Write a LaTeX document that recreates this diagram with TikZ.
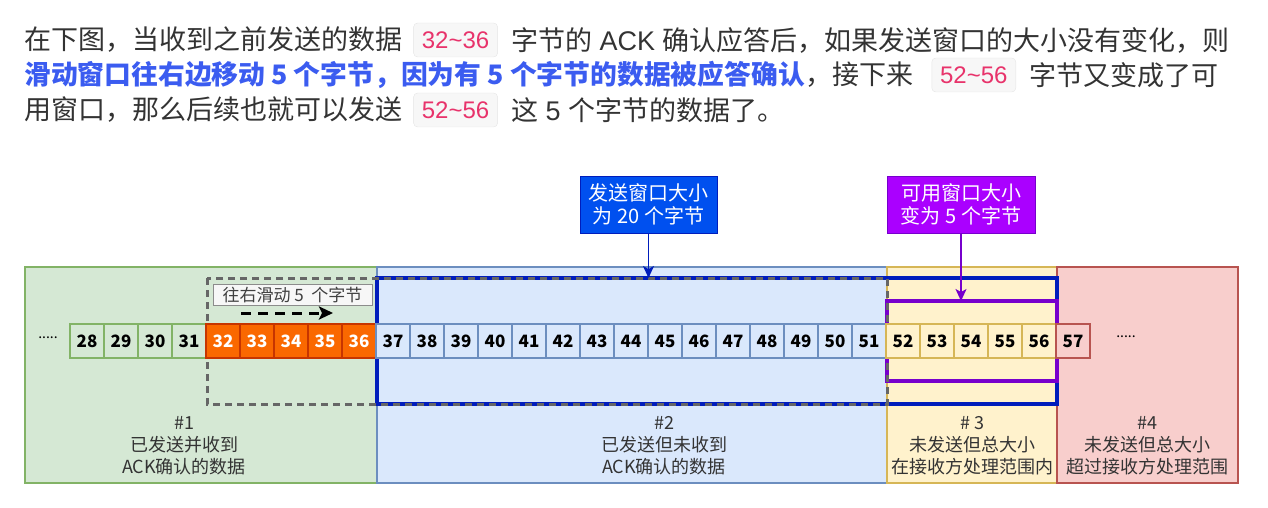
\documentclass[tikz,border=0pt]{standalone}
\usepackage{fontspec}
\setmainfont{Noto Sans CJK SC}
\newfontfamily\latinfont{Liberation Sans}
\usepackage{xcolor}
\usepackage{tikz}
\usetikzlibrary{positioning, arrows.meta}

\definecolor{txtgray}{HTML}{333333}
\definecolor{hiblue}{HTML}{3B5CF0}
\definecolor{codepink}{HTML}{E8336B}
\definecolor{greenfill}{HTML}{D5E8D4}
\definecolor{greenline}{HTML}{82B366}
\definecolor{bluefill}{HTML}{DAE8FC}
\definecolor{blueline}{HTML}{6C8EBF}
\definecolor{yellowfill}{HTML}{FFF2CC}
\definecolor{yellowline}{HTML}{D6B656}
\definecolor{redfill}{HTML}{F8CECC}
\definecolor{redline}{HTML}{B85450}
\definecolor{orangefill}{HTML}{FA6800}
\definecolor{orangeline}{HTML}{C73500}
\definecolor{winblue}{HTML}{001DBC}
\definecolor{calloutblue}{HTML}{0050EF}
\definecolor{winpurple}{HTML}{7700CC}
\definecolor{calloutpurple}{HTML}{AA00FF}

\tikzset{
    intro/.style={inner sep=0pt, anchor=west, text=txtgray, font=\fontsize{27}{34}\selectfont},
    code/.style={rectangle, rounded corners=4pt, draw=black!10, fill=black!3, text=codepink, minimum width=84pt, minimum height=34pt, inner sep=0pt, font=\latinfont\fontsize{24}{24}\selectfont},
    region/.style={rectangle, line width=1.5pt, minimum height=216pt, inner sep=0pt},
    cell/.style={rectangle, line width=1.5pt, minimum width=34pt, minimum height=34pt, inner sep=0pt, font=\fontsize{17}{17}\selectfont\bfseries},
    regionlabel/.style={align=center, text=txtgray, font=\fontsize{18}{22}\selectfont, anchor=south, inner sep=0pt},
    callout/.style={rectangle, line width=1pt, minimum height=57pt, align=center, text=white, inner sep=0pt, font=\fontsize{20}{23}\selectfont},
    arrow/.style={-{Stealth[length=12pt, width=11pt, inset=3pt]}, line width=1.5pt}
}

\begin{document}
\begin{tikzpicture}[x=1pt, y=-1pt,
        acked/.style={cell, draw=greenline, fill=greenfill},
        moving/.style={cell, draw=orangeline, fill=orangefill, text=white},
        inflight/.style={cell, draw=blueline, fill=bluefill},
        usable/.style={cell, draw=yellowline, fill=yellowfill},
        blocked/.style={cell, draw=redline, fill=redfill},
        window/.style={line width=3.5pt}
    ]
    \useasboundingbox (0,0) rectangle (1268,508);

    % Intro text
    \node[intro] (t1a) at (24,40) {在下图，当收到之前发送的数据};
    \node[code, right=11pt of t1a] (t1b) {32\textasciitilde36};
    \node[intro, right=13pt of t1b] (t1c) {字节的{\latinfont\ ACK\ }确认应答后，如果发送窗口的大小没有变化，则};
    \node[intro, text=hiblue, font=\fontsize{26.8}{34}\selectfont\bfseries] (t2a) at (24,75) {滑动窗口往右边移动 5 个字节，因为有 5 个字节的数据被应答确认};
    \node[intro, right=0pt of t2a] (t2b) {，接下来};
    \node[code, right=18pt of t2b] (t2c) {52\textasciitilde56};
    \node[intro, right=13pt of t2c] (t2d) {字节又变成了可};
    \node[intro] (t3a) at (24,110) {用窗口，那么后续也就可以发送};
    \node[code, right=11pt of t3a] (t3b) {52\textasciitilde56};
    \node[intro, right=13pt of t3b] (t3c) {这{\latinfont\ 5\ }个字节的数据了。};

    % Regions
    \node[region, draw=greenline, fill=greenfill, minimum width=352pt] (reg1) at (201,375) {};
    \node[region, draw=blueline, fill=bluefill, minimum width=510pt] (reg2) at (632,375) {};
    \node[region, draw=yellowline, fill=yellowfill, minimum width=170pt] (reg3) at (972,375) {};
    \node[region, draw=redline, fill=redfill, minimum width=181pt] (reg4) at (1147.5,375) {};

    \node[regionlabel, above=9pt of reg1.south, xshift=-17pt] (lab1) {\#1\\已发送并收到\\ACK确认的数据};
    \node[regionlabel, above=9pt of reg2.south, xshift=32pt] (lab2) {\#2\\已发送但未收到\\ACK确认的数据};
    \node[regionlabel, above=9pt of reg3.south] (lab3) {\# 3\\未发送但总大小\\在接收方处理范围内};
    \node[regionlabel, above=9pt of reg4.south] (lab4) {\#4\\未发送但总大小\\超过接收方处理范围};

    % Windows
    \coordinate (oldnw) at (207,278);
    \coordinate (oldse) at (887,404);
    \coordinate (newnw) at (377,278);
    \coordinate (newse) at (1057,404);
    \coordinate (usenw) at (887,301);
    \coordinate (usese) at (1057,381);
    \draw[window, draw=winblue] (newnw) rectangle (newse);
    \draw[window, draw=winpurple] (usenw) rectangle (usese);
    \draw[window, line width=3pt, draw=black!60, dash pattern=on 7pt off 5pt] (oldnw) rectangle (oldse);

    % Bytes
    \node[font=\fontsize{14}{14}\selectfont] (ldots) at (48,338) {.....};
    \foreach \n in {28,...,31}
        \node[acked] (c\n) at ({87+(\n-28)*34},341) {\n};
    \foreach \n in {32,...,36}
        \node[moving] (c\n) at ({87+(\n-28)*34},341) {\n};
    \foreach \n in {37,...,51}
        \node[inflight] (c\n) at ({87+(\n-28)*34},341) {\n};
    \foreach \n in {52,...,56}
        \node[usable] (c\n) at ({87+(\n-28)*34},341) {\n};
    \node[blocked] (c57) at ({87+29*34},341) {57};
    \node[font=\fontsize{14}{14}\selectfont] (rdots) at (1126,337) {.....};

    % Slide
    \node[rectangle, draw=black!45, fill=black!3, text=black!75, minimum width=159pt, minimum height=21pt, inner sep=0pt, font=\fontsize{17}{17}\selectfont] (slide) at (292.5,294.5) {往右滑动 5\ \ 个字节};
    \coordinate (slidefrom) at (241,313);
    \coordinate (slideto) at (333,313);
    \draw[-{Stealth[length=14pt, width=13pt, inset=3pt]}, line width=3pt, dash pattern=on 10pt off 7pt] (slidefrom) -- (slideto);

    % Callouts
    \node[callout, draw=winblue, fill=calloutblue, minimum width=137pt] (sendwin) at (648.5,204.5) {发送窗口大小\\为 20 个字节};
    \node[callout, draw=winpurple, fill=calloutpurple, minimum width=148pt] (usewin) at (961,204.5) {可用窗口大小\\变为 5 个字节};
    \coordinate (sendtip) at (sendwin.south |- newnw);
    \coordinate (usetip) at (usewin.south |- usenw);
    \draw[arrow, winblue] (sendwin) -- (sendtip);
    \draw[arrow, winpurple] (usewin) -- (usetip);

\end{tikzpicture}
\end{document}
